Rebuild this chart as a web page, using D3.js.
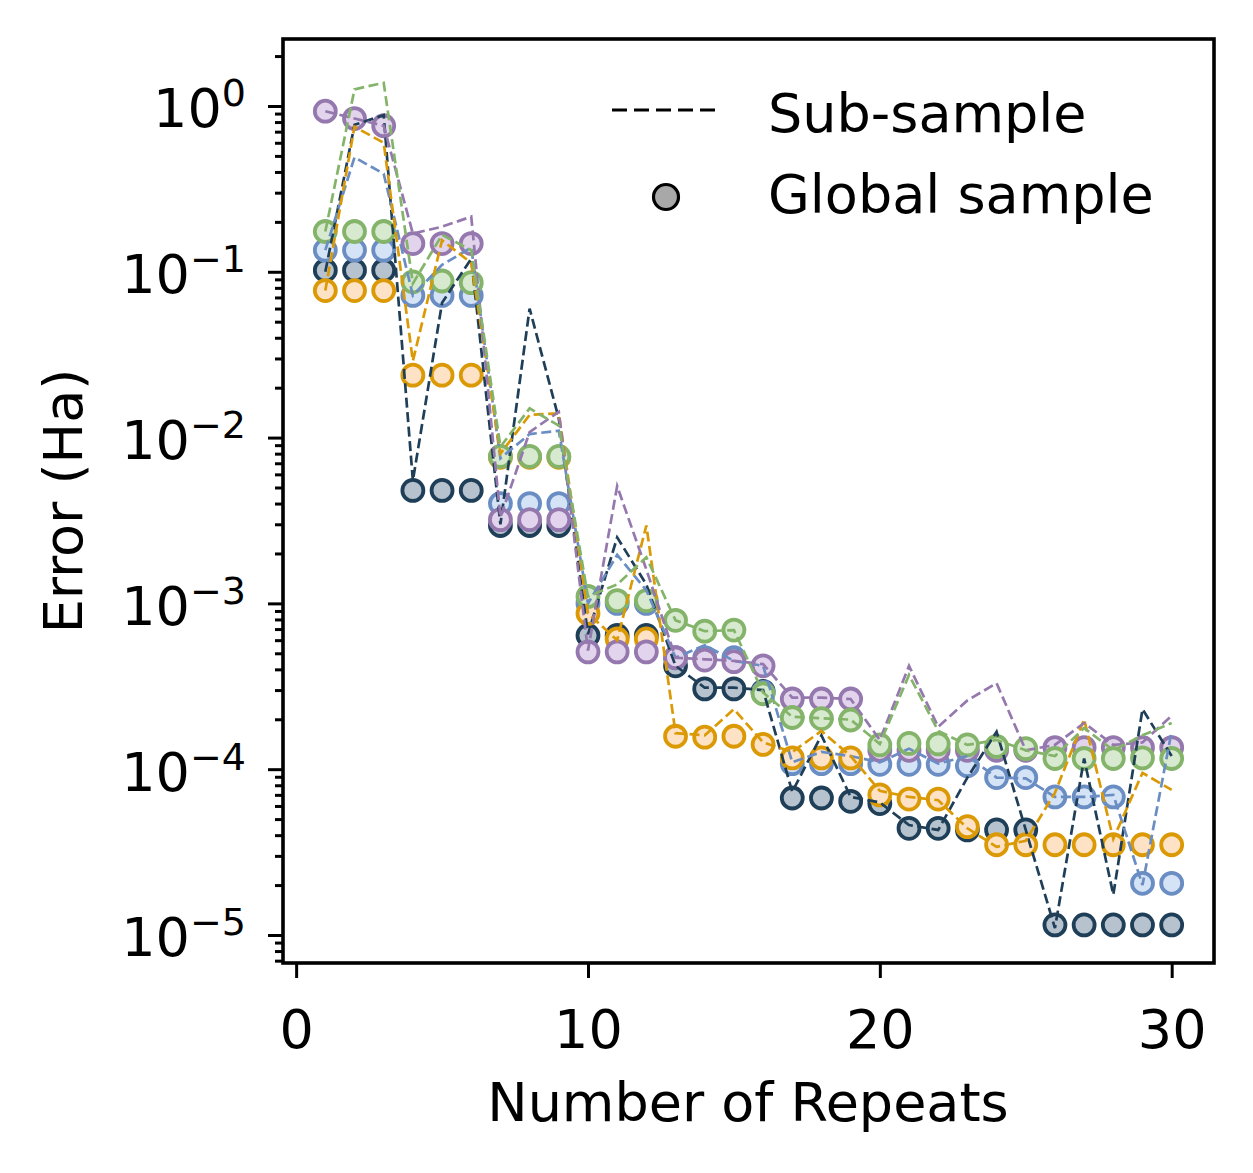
<!DOCTYPE html>
<html>
<head>
<meta charset="utf-8">
<script src="https://cdn.jsdelivr.net/npm/d3@7"></script>
<style>
body { margin: 0; background: #fff; }
text { font-family: "DejaVu Sans", sans-serif; fill: #000; }
.axis path { display: none; }
.axis line { stroke: #000; stroke-width: 3; }
</style>
</head>
<body>
<svg id="svg1" width="1253" height="1173"></svg>
<script>
var svg = d3.select('#svg1');

// chart data
var repeats = [1,2,3,4,5,6,7,8,9,10,11,12,13,14,15,16,17,18,19,20,21,22,23,24,25,26,27,28,29,30];

var navyGlobal = [0.102,0.102,0.102,4.8e-3,4.8e-3,4.8e-3,2.95e-3,2.95e-3,2.95e-3,6.4e-4,6.4e-4,6.4e-4,4.2e-4,3.05e-4,3.05e-4,2.95e-4,6.7e-5,6.7e-5,6.4e-5,6.2e-5,4.4e-5,4.4e-5,4.3e-5,4.3e-5,4.3e-5,1.15e-5,1.15e-5,1.15e-5,1.15e-5,1.15e-5];
var navySub = [0.10,0.77,0.88,5.5e-3,0.065,0.12,3.0e-3,0.06,0.013,6.5e-4,2.5e-3,1.3e-3,4.2e-4,3.1e-4,3.1e-4,3.0e-4,7.3e-5,1.6e-4,6.8e-5,6.3e-5,4.6e-5,4.3e-5,8.9e-5,1.68e-4,4.3e-5,1.1e-5,1.16e-4,1.75e-5,2.3e-4,1.2e-4];

var blueGlobal = [0.135,0.135,0.135,0.072,0.072,0.072,4.0e-3,4.0e-3,4.0e-3,1.0e-3,1.0e-3,1.0e-3,4.7e-4,4.7e-4,4.7e-4,2.9e-4,1.08e-4,1.08e-4,1.08e-4,1.07e-4,1.07e-4,1.07e-4,1.05e-4,8.9e-5,8.9e-5,6.8e-5,6.8e-5,6.8e-5,2.05e-5,2.05e-5];
var blueSub = [0.135,0.49,0.39,0.072,0.11,0.14,7.5e-3,0.0105,0.011,1.0e-3,1.96e-3,1.2e-3,4.7e-4,5.6e-4,4.5e-4,4.2e-4,1.1e-4,1.27e-4,1.2e-4,1.1e-4,1.33e-4,1.08e-4,1.2e-4,8.9e-5,8.8e-5,6.8e-5,6.8e-5,7.0e-5,2.0e-5,1.7e-4];

var orangeGlobal = [0.077,0.077,0.077,0.0238,0.0238,0.0238,7.6e-3,7.6e-3,7.6e-3,8.7e-4,6.1e-4,6.1e-4,1.58e-4,1.56e-4,1.58e-4,1.41e-4,1.17e-4,1.17e-4,1.17e-4,7.0e-5,6.6e-5,6.6e-5,4.5e-5,3.5e-5,3.5e-5,3.5e-5,3.5e-5,3.5e-5,3.5e-5,3.5e-5];
var orangeSub = [0.077,0.75,0.6,0.029,0.155,0.113,8.0e-3,0.0137,0.014,8.7e-4,6.0e-4,2.95e-3,1.65e-4,1.6e-4,2.3e-4,1.45e-4,1.27e-4,1.7e-4,1.2e-4,7.4e-5,6.8e-5,6.5e-5,4.4e-5,3.4e-5,3.7e-5,7.2e-5,2.0e-4,3.8e-5,9.5e-5,7.5e-5];

var greenGlobal = [0.175,0.175,0.175,0.087,0.088,0.086,7.7e-3,7.7e-3,7.7e-3,1.1e-3,1.04e-3,1.04e-3,7.9e-4,6.8e-4,6.9e-4,2.85e-4,2.05e-4,2.02e-4,1.98e-4,1.4e-4,1.43e-4,1.42e-4,1.4e-4,1.37e-4,1.33e-4,1.16e-4,1.16e-4,1.16e-4,1.17e-4,1.16e-4];
var greenSub = [0.175,1.26,1.38,0.085,0.167,0.135,8.8e-3,0.015,0.0118,1.1e-3,1.3e-3,1.9e-3,7.9e-4,6.8e-4,6.9e-4,2.9e-4,2.07e-4,2.03e-4,1.99e-4,1.42e-4,3.7e-4,1.7e-4,1.4e-4,1.5e-4,1.3e-4,1.2e-4,1.77e-4,1.3e-4,1.6e-4,1.9e-4];

var purpleGlobal = [0.93,0.84,0.76,0.148,0.148,0.148,3.2e-3,3.2e-3,3.2e-3,5.1e-4,5.1e-4,5.1e-4,4.7e-4,4.55e-4,4.45e-4,4.2e-4,2.65e-4,2.65e-4,2.65e-4,1.3e-4,1.3e-4,1.3e-4,1.3e-4,1.3e-4,1.3e-4,1.35e-4,1.35e-4,1.35e-4,1.35e-4,1.35e-4];
var purpleSub = [0.93,0.84,0.76,0.17,0.187,0.215,3.3e-3,0.0108,0.0143,5.2e-4,5.1e-3,1.6e-3,4.7e-4,4.6e-4,4.5e-4,4.3e-4,2.7e-4,2.7e-4,2.65e-4,1.5e-4,4.2e-4,1.8e-4,2.6e-4,3.3e-4,1.3e-4,1.4e-4,1.9e-4,1.4e-4,1.45e-4,2.1e-4];

var xTicks = [0, 10, 20, 30];
var yExponents = [0, -1, -2, -3, -4, -5];
var legendLabels = ['Sub-sample', 'Global sample'];

// drawing order: green markers sit on top of purple ones
var series = [
    {global: navyGlobal, sub: navySub, edge: '#1f3f58', fill: '#b6c2cd'},
    {global: blueGlobal, sub: blueSub, edge: '#6a8dc3', fill: '#d4e3f6'},
    {global: orangeGlobal, sub: orangeSub, edge: '#db9a05', fill: '#fde2c6'},
    {global: purpleGlobal, sub: purpleSub, edge: '#9578ad', fill: '#e2d4ec'},
    {global: greenGlobal, sub: greenSub, edge: '#84b46a', fill: '#d7e9cf'}
];

var plot = {l: 283, r: 1214, t: 39, b: 963};

var xScale = d3.scaleLinear().domain([-0.45, 31.45]).range([plot.l, plot.r]);
var yScale = d3.scaleLog().domain([Math.pow(10, -5.169), Math.pow(10, 0.404)]).range([plot.b, plot.t]);

// minor ticks on the log axis
var minorTicks = [];
for (var e = -6; e <= 0; e++) {
    for (var m = 2; m <= 9; m++) {
        var v = m * Math.pow(10, e);
        if (v >= yScale.domain()[0] && v <= yScale.domain()[1]) minorTicks.push(v);
    }
}

svg.append('g')
    .attr('class', 'axis')
    .attr('transform', 'translate(' + [plot.l, 0] + ')')
    .call(d3.axisLeft(yScale).tickValues(minorTicks).tickSize(8).tickFormat(''));

var yMajor = svg.append('g')
    .attr('class', 'axis')
    .attr('transform', 'translate(' + [plot.l, 0] + ')')
    .call(d3.axisLeft(yScale).tickValues(yExponents.map(function(d) { return Math.pow(10, d); }))
        .tickSize(15).tickFormat(''));

yMajor.selectAll('.tick').each(function(d, i) {
    var t = d3.select(this).append('text')
        .attr('x', -37)
        .attr('y', 21)
        .attr('text-anchor', 'end')
        .style('font-size', '54px');
    t.append('tspan').text('10');
    t.append('tspan')
        .attr('dy', -21)
        .style('font-size', '38px')
        .text(yExponents[i] === 0 ? '0' : '\u2212' + (-yExponents[i]));
});

var xAxis = svg.append('g')
    .attr('class', 'axis')
    .attr('transform', 'translate(' + [0, plot.b] + ')')
    .call(d3.axisBottom(xScale).tickValues(xTicks).tickSize(15).tickFormat(''));

xAxis.selectAll('.tick').append('text')
    .attr('y', 85)
    .attr('text-anchor', 'middle')
    .style('font-size', '54px')
    .text(function(d) { return d; });

// global sample markers first, sub-sample dashed lines on top
var markers = svg.append('g');
series.forEach(function(s) {
    markers.append('g').selectAll('circle')
        .data(repeats)
        .enter()
        .append('circle')
        .attr('cx', function(d) { return xScale(d); })
        .attr('cy', function(d, i) { return yScale(s.global[i]); })
        .attr('r', 10.5)
        .style('fill', s.fill)
        .style('stroke', s.edge)
        .style('stroke-width', 3.8);
});

var line = d3.line();
series.forEach(function(s) {
    svg.append('path')
        .datum(repeats.map(function(d, i) { return [xScale(d), yScale(s.sub[i])]; }))
        .attr('d', line)
        .style('fill', 'none')
        .style('stroke', s.edge)
        .style('stroke-width', 2.7)
        .style('stroke-dasharray', '10,4.5');
});

// frame
svg.append('rect')
    .attr('x', plot.l)
    .attr('y', plot.t)
    .attr('width', plot.r - plot.l)
    .attr('height', plot.b - plot.t)
    .style('fill', 'none')
    .style('stroke', '#000')
    .style('stroke-width', 3.6);

// legend
var legend = svg.append('g');
legend.append('line')
    .attr('x1', 612).attr('x2', 722)
    .attr('y1', 110).attr('y2', 110)
    .style('stroke', '#000')
    .style('stroke-width', 3)
    .style('stroke-dasharray', '15,7');
legend.append('circle')
    .attr('cx', 666).attr('cy', 197)
    .attr('r', 12.5)
    .style('fill', '#a8a8a8')
    .style('stroke', '#000')
    .style('stroke-width', 3.2);
legend.selectAll('.legtext')
    .data(legendLabels)
    .enter()
    .append('text')
    .attr('x', 768)
    .attr('y', function(d, i) { return 132 + i * 81; })
    .style('font-size', '54px')
    .text(function(d) { return d; });

// axis titles
svg.append('text')
    .attr('x', 748)
    .attr('y', 1121)
    .attr('text-anchor', 'middle')
    .style('font-size', '54px')
    .text('Number of Repeats');

svg.append('text')
    .attr('transform', 'translate(' + [82, 501] + ') rotate(-90)')
    .attr('text-anchor', 'middle')
    .style('font-size', '54px')
    .text('Error (Ha)');
</script>
</body>
</html>
